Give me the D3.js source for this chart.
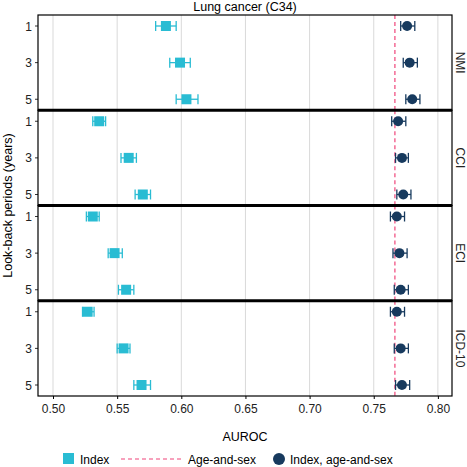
<!DOCTYPE html><html><head><script src="https://cdn.jsdelivr.net/npm/d3@7"></script>
<style>body{margin:0;background:#fff}text{font-family:"Liberation Sans",Arial,sans-serif}</style></head><body>
<svg id="c" width="467" height="467"></svg>
<script>
const panels=["NMI","CCI","ECI","ICD-10"];
const periods=["1","3","5"];
const idxVal=[[0.588,0.599,0.604],[0.536,0.559,0.570],[0.531,0.548,0.557],[0.527,0.555,0.569]];
const idxLo=[[0.580,0.591,0.596],[0.531,0.553,0.564],[0.526,0.543,0.551],[0.523,0.550,0.563]];
const idxHi=[[0.596,0.607,0.613],[0.541,0.565,0.576],[0.536,0.554,0.563],[0.532,0.560,0.576]];
const asVal=[[0.776,0.778,0.780],[0.769,0.772,0.773],[0.768,0.770,0.771],[0.768,0.771,0.772]];
const asLo=[[0.771,0.773,0.775],[0.764,0.767,0.768],[0.763,0.765,0.766],[0.763,0.766,0.767]];
const asHi=[[0.782,0.784,0.786],[0.775,0.777,0.779],[0.774,0.776,0.777],[0.774,0.777,0.778]];
const ageSex=0.7665;
const ticks=[0.50,0.55,0.60,0.65,0.70,0.75,0.80];
const cLight="#29bcd3",cDark="#173a5e",cRef="#f0457a";
const svg=d3.select("#c");
const L=38,R=452,T=15,B=396;
const x=d3.scaleLinear().domain([0.4883,0.811]).range([L,R]);
const py=d3.scaleBand().domain(panels).range([T,B]);
svg.append("text").attr("x",(L+R)/2).attr("y",11).attr("text-anchor","middle").attr("font-size",12.5).text("Lung cancer (C34)");
panels.forEach((p,i)=>{
 const y0=py(p),h=py.bandwidth();
 const g=svg.append("g");
 const y=d3.scalePoint().domain(periods).range([y0+11,y0+h-11]);
 ticks.forEach(t=>g.append("line").attr("x1",x(t)).attr("x2",x(t)).attr("y1",y0).attr("y2",y0+h).attr("stroke","#d9d9d9").attr("stroke-width",1));
 g.append("line").attr("x1",x(ageSex)).attr("x2",x(ageSex)).attr("y1",y0).attr("y2",y0+h).attr("stroke",cRef).attr("stroke-dasharray","4,3").attr("stroke-width",1.2);
 periods.forEach((q,j)=>{
  const yy=y(q);
  [[idxLo,idxHi,cLight],[asLo,asHi,cDark]].forEach(([lo,hi,c])=>{
   g.append("line").attr("x1",x(lo[i][j])).attr("x2",x(hi[i][j])).attr("y1",yy).attr("y2",yy).attr("stroke",c).attr("stroke-width",1.3);
   [lo,hi].forEach(a=>g.append("line").attr("x1",x(a[i][j])).attr("x2",x(a[i][j])).attr("y1",yy-5).attr("y2",yy+5).attr("stroke",c).attr("stroke-width",1.3));
  });
  g.append("rect").attr("x",x(idxVal[i][j])-5).attr("y",yy-5).attr("width",10).attr("height",10).attr("fill",cLight);
  g.append("circle").attr("cx",x(asVal[i][j])).attr("cy",yy).attr("r",5).attr("fill",cDark);
  g.append("line").attr("x1",L-3).attr("x2",L).attr("y1",yy).attr("y2",yy).attr("stroke","#333");
  g.append("text").attr("x",L-6).attr("y",yy+4.5).attr("text-anchor","end").attr("font-size",12).attr("fill","#222").text(q);
 });
 g.append("rect").attr("x",L).attr("y",y0).attr("width",R-L).attr("height",h).attr("fill","none").attr("stroke","#000").attr("stroke-width",1.2);
 g.append("text").attr("transform",`translate(${R+4},${y0+h/2}) rotate(90)`).attr("text-anchor","middle").attr("font-size",12).attr("fill","#222").text(p);
});
for(let i=1;i<panels.length;i++) svg.append("line").attr("x1",L).attr("x2",R).attr("y1",py(panels[i])).attr("y2",py(panels[i])).attr("stroke","#000").attr("stroke-width",3);
const ax=svg.append("g").attr("transform",`translate(0,${B})`).call(d3.axisBottom(x).tickValues(ticks).tickFormat(d3.format(".2f")).tickSize(3).tickSizeOuter(0));
ax.select(".domain").remove();
ax.selectAll("text").attr("font-size",12).attr("fill","#222").attr("dy","0.9em");
svg.append("text").attr("x",(L+R)/2).attr("y",441).attr("text-anchor","middle").attr("font-size",12.5).text("AUROC");
svg.append("text").attr("transform",`translate(12,${(T+B)/2}) rotate(-90)`).attr("text-anchor","middle").attr("font-size",12.5).text("Look-back periods (years)");
const lg=svg.append("g").attr("transform","translate(0,459)");
lg.append("rect").attr("x",63).attr("y",-6).attr("width",11).attr("height",11).attr("fill",cLight);
lg.append("text").attr("x",80).attr("y",4.5).attr("font-size",12).text("Index");
lg.append("line").attr("x1",121).attr("x2",183).attr("y1",0).attr("y2",0).attr("stroke",cRef).attr("stroke-dasharray","4,3").attr("stroke-width",1.2);
lg.append("text").attr("x",188).attr("y",4.5).attr("font-size",12).text("Age-and-sex");
lg.append("circle").attr("cx",279).attr("cy",0).attr("r",6).attr("fill",cDark);
lg.append("text").attr("x",290).attr("y",4.5).attr("font-size",12).text("Index, age-and-sex");
</script></body></html>
